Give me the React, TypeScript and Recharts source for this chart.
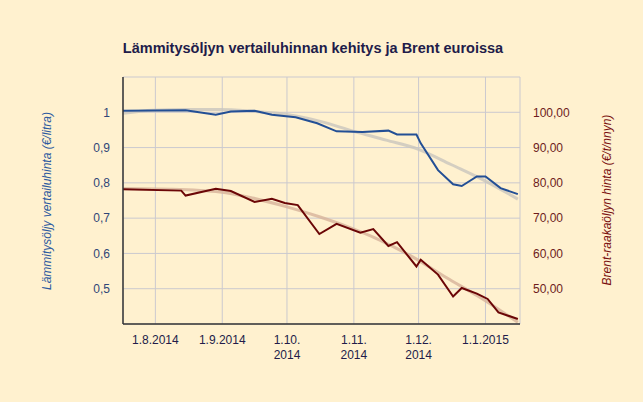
import React from 'react';
import { LineChart, Line, XAxis, YAxis, CartesianGrid } from 'recharts';

// Heating oil reference price (€/l)
const oilDates = [
  '2014-07-17', '2014-08-15', '2014-08-29', '2014-09-05', '2014-09-16', '2014-09-24',
  '2014-10-05', '2014-10-15', '2014-10-24', '2014-11-05', '2014-11-17', '2014-11-21',
  '2014-11-30', '2014-12-02', '2014-12-10', '2014-12-17', '2014-12-21', '2014-12-28',
  '2015-01-01', '2015-01-08', '2015-01-16'
];
const oilValues = [
  1.004, 1.006, 0.993, 1.002, 1.004, 0.993,
  0.986, 0.969, 0.946, 0.944, 0.948, 0.937,
  0.937, 0.912, 0.836, 0.796, 0.791, 0.818,
  0.818, 0.785, 0.768
];

// Brent crude (€/barrel)
const brentDates = [
  '2014-07-17', '2014-08-13', '2014-08-15', '2014-08-29', '2014-09-05', '2014-09-16',
  '2014-09-24', '2014-09-30', '2014-10-06', '2014-10-16', '2014-10-24', '2014-11-04',
  '2014-11-10', '2014-11-17', '2014-11-21', '2014-11-30', '2014-12-02', '2014-12-10',
  '2014-12-17', '2014-12-21', '2014-12-28', '2015-01-02', '2015-01-07', '2015-01-16'
];
const brentValues = [
  78.2, 77.8, 76.4, 78.3, 77.7, 74.6,
  75.5, 74.3, 73.7, 65.5, 68.4, 65.9,
  66.9, 62.1, 63.2, 56.3, 58.2, 54.0,
  47.8, 50.2, 48.6, 47.1, 43.3, 41.4
];

// Trend lines
const oilTrendDates = [
  '2014-07-17', '2014-07-31', '2014-08-15', '2014-08-31', '2014-09-15', '2014-10-01',
  '2014-10-16', '2014-11-01', '2014-11-16', '2014-12-01', '2014-12-16', '2015-01-01',
  '2015-01-16'
];
const oilTrendValues = [
  0.997, 1.006, 1.008, 1.008, 1.003, 0.994,
  0.975, 0.946, 0.921, 0.895, 0.852, 0.805,
  0.754
];
const brentTrendDates = [
  '2014-07-17', '2014-08-08', '2014-08-31', '2014-09-15', '2014-10-01', '2014-10-16',
  '2014-10-29', '2014-11-13', '2014-11-28', '2014-12-14', '2014-12-29', '2015-01-16'
];
const brentTrendValues = [
  78.4, 78.2, 77.4, 75.7, 73.2, 70.4,
  67.6, 63.8, 59.1, 53.1, 47.7, 40.5
];

const monthTicks = ['2014-08-01', '2014-09-01', '2014-10-01', '2014-11-01', '2014-12-01', '2015-01-01'];
const monthLabels = [['1.8.2014'], ['1.9.2014'], ['1.10.', '2014'], ['1.11.', '2014'], ['1.12.', '2014'], ['1.1.2015']];
const leftTicks = [0.5, 0.6, 0.7, 0.8, 0.9, 1];
const rightTicks = [50, 60, 70, 80, 90, 100];

const FONT = "Arial, 'Liberation Sans', sans-serif";
const BG = '#FFF1CF';

const toSeries = (dates: string[], values: number[]) =>
  dates.map((d, i) => ({ t: Date.parse(d), v: values[i] }));

const oilData = toSeries(oilDates, oilValues);
const brentData = toSeries(brentDates, brentValues);
const oilTrend = toSeries(oilTrendDates, oilTrendValues);
const brentTrend = toSeries(brentTrendDates, brentTrendValues);
const tickTimes = monthTicks.map(d => Date.parse(d));

const MonthTick = (props: any) => {
  const { x, y, payload } = props;
  const idx = tickTimes.indexOf(payload.value);
  const lines = idx >= 0 ? monthLabels[idx] : [];
  return (
    <text x={x} y={y} textAnchor="middle" fill="#221c4a" fontSize={12} fontFamily={FONT}>
      {lines.map((l, i) => (
        <tspan key={i} x={x} dy={i === 0 ? 18 : 15}>{l}</tspan>
      ))}
    </text>
  );
};

const App = () => {
  return (
    <div style={{ position: 'absolute', left: 0, top: 0, width: 643, height: 402, background: BG }}>
      <div
        style={{
          position: 'absolute', left: 0, top: 40, width: 626, textAlign: 'center',
          fontFamily: FONT, fontWeight: 'bold', fontSize: 14.5, color: '#221c4a'
        }}
      >
        Lämmitysöljyn vertailuhinnan kehitys ja Brent euroissa
      </div>
      <LineChart
        width={643}
        height={402}
        margin={{ top: 77, right: 0, bottom: 0, left: 0 }}
        style={{ position: 'absolute', left: 0, top: 0 }}
      >
        <CartesianGrid yAxisId="left" stroke="#cbc9cf" strokeWidth={1} />
        <XAxis
          dataKey="t"
          type="number"
          domain={[Date.parse('2014-07-17'), Date.parse('2015-01-17')]}
          ticks={tickTimes}
          interval={0}
          tick={<MonthTick />}
          tickLine={false}
          tickSize={0}
          height={78}
          axisLine={{ stroke: '#333', strokeWidth: 1.5 }}
          allowDataOverflow
        />
        <YAxis
          yAxisId="left"
          orientation="left"
          width={123}
          domain={[0.4, 1.1]}
          ticks={leftTicks}
          interval={0}
          tickFormatter={(v: number) => String(v).replace('.', ',')}
          tick={{ fill: '#2f4677', fontSize: 12, fontFamily: FONT }}
          tickLine={false}
          tickSize={0}
          tickMargin={13}
          axisLine={{ stroke: '#333', strokeWidth: 1.5 }}
          allowDataOverflow
          label={{
            content: () => (
              <text
                x={51}
                y={201}
                transform="rotate(-90 51 201)"
                textAnchor="middle"
                fill="#2c5aa0"
                fontSize={12}
                fontStyle="italic"
                fontFamily={FONT}
              >
                Lämmitysöljy vertailuhinta (€/litra)
              </text>
            )
          }}
        />
        <YAxis
          yAxisId="right"
          orientation="right"
          width={123}
          domain={[40, 110]}
          ticks={rightTicks}
          interval={0}
          tickFormatter={(v: number) => v.toFixed(2).replace('.', ',')}
          tick={{ fill: '#6e1c1c', fontSize: 12, fontFamily: FONT, textAnchor: 'start' }}
          tickLine={false}
          tickSize={0}
          tickMargin={13}
          axisLine={false}
          allowDataOverflow
          label={{
            content: () => (
              <text
                x={611}
                y={200}
                transform="rotate(-90 611 200)"
                textAnchor="middle"
                fill="#7a1010"
                fontSize={12}
                fontStyle="italic"
                fontFamily={FONT}
              >
                Brent-raakaöljyn hinta (€/t/nnyn)
              </text>
            )
          }}
        />
        <Line
          yAxisId="left"
          data={oilTrend}
          dataKey="v"
          type="monotone"
          stroke="#c9c6bd"
          strokeOpacity={0.8}
          strokeWidth={3}
          dot={false}
          isAnimationActive={false}
        />
        <Line
          yAxisId="right"
          data={brentTrend}
          dataKey="v"
          type="monotone"
          stroke="#d7b39a"
          strokeOpacity={0.8}
          strokeWidth={3}
          dot={false}
          isAnimationActive={false}
        />
        <Line
          yAxisId="left"
          data={oilData}
          dataKey="v"
          type="linear"
          stroke="#234f95"
          strokeWidth={2}
          dot={false}
          isAnimationActive={false}
        />
        <Line
          yAxisId="right"
          data={brentData}
          dataKey="v"
          type="linear"
          stroke="#6b0606"
          strokeWidth={2}
          dot={false}
          isAnimationActive={false}
        />
      </LineChart>
    </div>
  );
};

export default App;
